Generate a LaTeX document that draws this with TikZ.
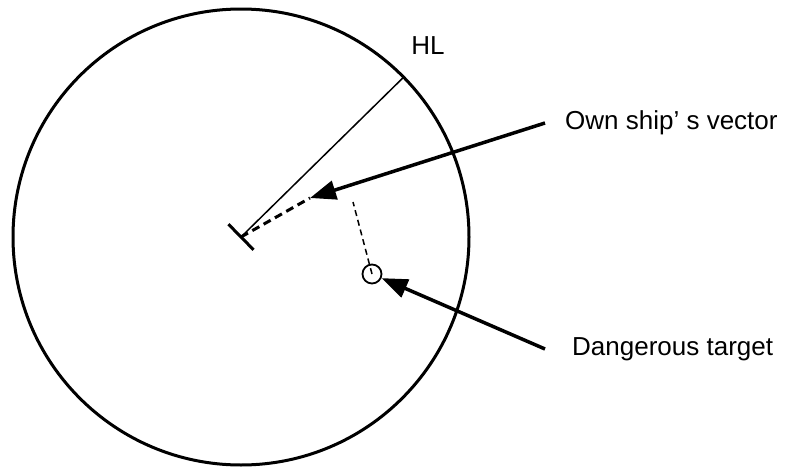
\documentclass[tikz,border=0pt]{standalone}
\usepackage{fontspec}
\setmainfont{Liberation Sans}
\usetikzlibrary{arrows.meta}
\begin{document}
\begin{tikzpicture}[x=1pt,y=-1pt,
  lbl/.style={font=\fontsize{26}{30}\selectfont, inner sep=0pt},
  pointer/.style={line width=3.5pt, -{Triangle[length=26pt,width=19pt]}}]
\useasboundingbox (0,0) rectangle (790,466);
% radar screen
\coordinate (ship) at (241,237);
\draw[line width=3pt] (ship) circle (228);
% heading line and own ship
\coordinate (hl) at ([shift={(-44.5:228)}]ship);
\draw[line width=1.5pt] (ship) -- (hl);
\coordinate (barA) at ([shift={(-134.5:18)}]ship);
\coordinate (barB) at ([shift={(45.5:18)}]ship);
\draw[line width=3pt] (barA) -- (barB);
% own ship's vector
\coordinate (vtip) at (310,198);
\draw[line width=3pt, dash pattern=on 8pt off 5pt] (ship) -- (vtip);
% target and its vector
\node[draw, circle, line width=1.8pt, minimum size=19pt, inner sep=0pt] (tgt) at (372,274) {};
\coordinate (tvec) at (353,202);
\draw[line width=1.5pt, dash pattern=on 6pt off 4pt] (tgt.center) -- (tvec);
% labels
\node[lbl] (hltext) at (428,46) {HL};
\node[lbl, anchor=west] (own) at (565,123) {Own ship’ s vector};
\node[lbl, anchor=west] (dng) at (572,349) {Dangerous target};
\draw[pointer] ([xshift=-20pt]own.west) -- (vtip);
\draw[pointer] ([xshift=-27pt]dng.west) -- (tgt);
\end{tikzpicture}
\end{document}
